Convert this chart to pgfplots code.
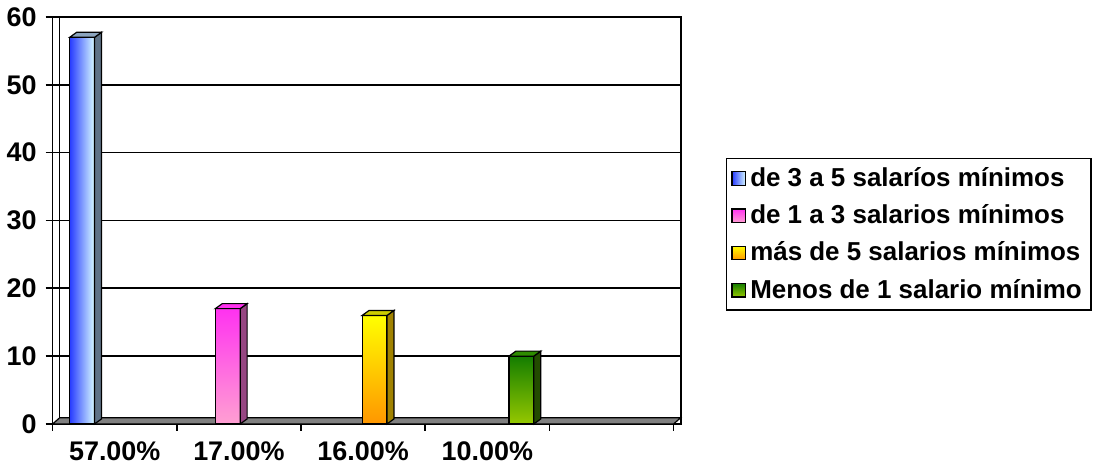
\documentclass[border=0pt]{standalone}
\usepackage{fontspec}
\setmainfont{Liberation Sans}
\usepackage{pgfplots}
\pgfplotsset{compat=1.18}
\definecolor{bA}{RGB}{40,60,255}
\definecolor{bB}{RGB}{215,250,255}
\definecolor{bS}{RGB}{95,115,135}
\definecolor{bT}{RGB}{140,165,190}
\definecolor{pA}{RGB}{255,50,240}
\definecolor{pB}{RGB}{255,160,210}
\definecolor{pS}{RGB}{150,70,130}
\definecolor{yA}{RGB}{255,255,0}
\definecolor{yB}{RGB}{255,150,0}
\definecolor{yS}{RGB}{160,130,0}
\definecolor{gA}{RGB}{20,125,0}
\definecolor{gB}{RGB}{150,200,0}
\definecolor{gS}{RGB}{35,75,0}
\begin{document}
\begin{tikzpicture}
\begin{axis}[
  width=315pt, height=204pt, scale only axis,
  xmin=0, xmax=5.06, ymin=0, ymax=60,
  clip=false,
  axis line style={black, line width=0.8pt},
  ytick={0,10,...,60},
  ymajorgrids, grid style={black, line width=0.8pt},
  xtick={0,...,5},
  xticklabels={57.00\%,17.00\%,16.00\%,10.00\%,{}},
  x tick label as interval,
  tick pos=left, tick align=outside,
  major tick length=3.5pt,
  tick style={black, line width=0.8pt},
  /pgf/number format/assume math mode=true,
  ticklabel style={font=\fontsize{13.5}{15}\selectfont\bfseries},
  yticklabel style={xshift=-1pt},
  xticklabel style={yshift=-2pt},
  ybar, bar width=0.2,
  legend style={at={(rel axis cs:1.071,0.654)}, anchor=north west,
    draw=black, line width=0.8pt,
    font=\fontsize{13}{14}\selectfont\bfseries,
    row sep=3.6pt, inner xsep=2.5pt, inner ysep=2.5pt,
    nodes={inner xsep=2pt}},
  legend cell align=left,
  legend image code/.code={\draw[#1, draw=black, line width=0.6pt] (0cm,-0.12cm) rectangle (0.24cm,0.12cm);},
]
\coordinate (O) at (rel axis cs:0,0);
% floor
\addplot[fill=gray, draw=black, line width=0.6pt, forget plot, sharp plot] coordinates {(0,0) (5,0) (5.056,0.9) (0.056,0.9) (0,0)} -- cycle;
\addplot[black, line width=0.8pt, forget plot, sharp plot] coordinates {(0.056,0.9) (0.056,60)};
% front faces
\addplot[bar shift=0pt, draw=black, line width=0.6pt, left color=bA, right color=bB] coordinates {(0.2375,57)};
\addlegendentry{de 3 a 5 salaríos mínimos}
\addplot[bar shift=0pt, draw=black, line width=0.6pt, top color=pA, bottom color=pB] coordinates {(1.41,17)};
\addlegendentry{de 1 a 3 salarios mínimos}
\addplot[bar shift=0pt, draw=black, line width=0.6pt, top color=yA, bottom color=yB] coordinates {(2.5925,16)};
\addlegendentry{más de 5 salarios mínimos}
\addplot[bar shift=0pt, draw=black, line width=0.6pt, top color=gA, bottom color=gB] coordinates {(3.7745,10)};
\addlegendentry{Menos de 1 salario mínimo}
% side and top faces
\addplot[sharp plot, fill=bS, draw=black, line width=0.6pt, forget plot] coordinates {(0.3375,0) (0.3935,0.74) (0.3935,57.74) (0.3375,57)} -- cycle;
\addplot[sharp plot, fill=bT, draw=black, line width=0.6pt, forget plot] coordinates {(0.1375,57) (0.1935,57.74) (0.3935,57.74) (0.3375,57)} -- cycle;
\addplot[sharp plot, fill=pS, draw=black, line width=0.6pt, forget plot] coordinates {(1.51,0) (1.566,0.74) (1.566,17.74) (1.51,17)} -- cycle;
\addplot[sharp plot, fill=pA, draw=black, line width=0.6pt, forget plot] coordinates {(1.31,17) (1.366,17.74) (1.566,17.74) (1.51,17)} -- cycle;
\addplot[sharp plot, fill=yS, draw=black, line width=0.6pt, forget plot] coordinates {(2.6925,0) (2.7485,0.74) (2.7485,16.74) (2.6925,16)} -- cycle;
\addplot[sharp plot, fill=yA!80!black, draw=black, line width=0.6pt, forget plot] coordinates {(2.4925,16) (2.5485,16.74) (2.7485,16.74) (2.6925,16)} -- cycle;
\addplot[sharp plot, fill=gS, draw=black, line width=0.6pt, forget plot] coordinates {(3.8745,0) (3.9305,0.74) (3.9305,10.74) (3.8745,10)} -- cycle;
\addplot[sharp plot, fill=gA!80!gB, draw=black, line width=0.6pt, forget plot] coordinates {(3.6745,10) (3.7305,10.74) (3.9305,10.74) (3.8745,10)} -- cycle;
\end{axis}
\path (O) ++(-25pt,-24pt) rectangle ++(552.5pt,236.5pt);
\end{tikzpicture}
\end{document}
